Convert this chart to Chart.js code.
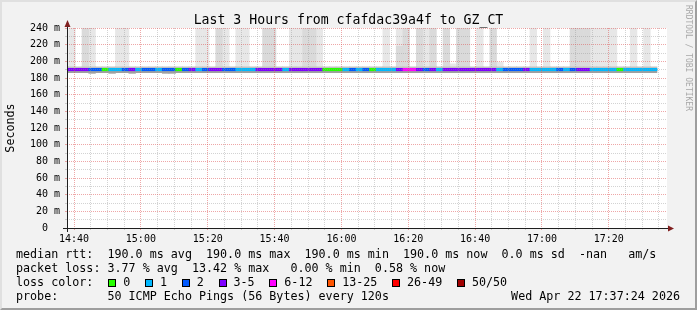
<!DOCTYPE html>
<html><head><meta charset="utf-8">
<script src="https://cdn.jsdelivr.net/npm/chart.js@4.4.1/dist/chart.umd.min.js"></script>
<style>
html,body{margin:0;padding:0;background:#f2f2f2;}
#wrap{position:relative;width:697px;height:310px;overflow:hidden;background:#f2f2f2;}
#frame{position:absolute;left:0;top:0;width:697px;height:310px;box-sizing:border-box;border-top:2px solid #e0e0e0;border-left:2px solid #e0e0e0;border-right:2px solid #9e9e9e;border-bottom:2px solid #9e9e9e;pointer-events:none;}
canvas{position:absolute;left:0;top:0;}
.t{position:absolute;font-family:"DejaVu Sans Mono",monospace;color:#000;white-space:pre;font-size:11.7px;line-height:14px;}
.bx{position:absolute;width:6px;height:6px;border:1px solid #000;}
#title{left:0;width:697px;text-align:center;top:12.8px;font-size:13.2px;line-height:13.2px;}
#wm{position:absolute;left:684px;top:5px;writing-mode:vertical-rl;font-family:"DejaVu Sans Mono",monospace;font-size:8px;line-height:9px;color:#a8a8a8;white-space:pre;}
</style></head><body>
<div id="wrap">
<canvas id="c" width="697" height="310"></canvas>
<div class="t" id="title">Last 3 Hours from cfafdac39a4f to GZ_CT</div>
<div id="wm">RRDTOOL / TOBI OETIKER</div>
<div id="legend"></div>
<div id="frame"></div>
</div>
<script>
// ---- data ----
const titleText = 'Last 3 Hours from cfafdac39a4f to GZ_CT';
const axisStart = '14:37:54';
const axisEnd = '17:37:24';
const firstStepCenter = '14:37:24';
const stepMinutes = 2;
const yTicks = [0,20,40,60,80,100,120,140,160,180,200,220,240];
const xTickLabels = ['14:40','15:00','15:20','15:40','16:00','16:20','16:40','17:00','17:20'];

// median rtt (ms) per 120 s step
const medianRtt = [190.0,
 190.0,190.0,190.0,190.0,190.0,190.0,190.0,190.0,190.0,190.0,
 190.0,190.0,190.0,190.0,190.0,190.0,190.0,190.0,190.0,190.0,
 190.0,190.0,190.0,190.0,190.0,190.0,190.0,190.0,190.0,190.0,
 190.0,190.0,190.0,190.0,190.0,190.0,190.0,190.0,190.0,190.0,
 190.0,190.0,190.0,190.0,190.0,190.0,190.0,190.0,190.0,190.0,
 190.0,190.0,190.0,190.0,190.0,190.0,190.0,190.0,190.0,190.0,
 190.0,190.0,190.0,190.0,190.0,190.0,190.0,190.0,190.0,190.0,
 190.0,190.0,190.0,190.0,190.0,190.0,190.0,190.0,190.0,190.0,
 190.0,190.0,190.0,190.0,190.0,190.0,190.0,190.0];
// loss class index per step (into lossLabels)
const lossClass = [3,
 3,3,3,2,2,0,1,1,2,3,
 1,2,2,1,2,2,0,2,3,1,
 2,3,3,2,2,1,1,1,3,3,
 3,3,1,3,3,3,3,3,0,0,
 0,1,2,1,2,0,1,1,1,3,
 4,4,3,2,3,1,3,3,3,3,
 3,3,3,3,1,2,2,2,3,1,
 1,1,1,2,1,2,3,3,1,1,
 1,1,0,1,1,1,1,1];
// smoke: lowest / highest regular ping (ms)
const pingLow = [186.4,
 186.4,186.4,186.4,185.6,186.4,186.4,185.6,186.4,186.4,185.6,
 186.4,186.4,186.4,186.4,185.6,185.6,186.4,186.4,186.4,186.4,
 186.4,186.4,186.4,186.4,186.4,186.4,186.4,186.4,186.4,186.4,
 186.4,186.4,186.4,186.4,186.4,186.4,186.4,186.4,186.4,186.4,
 186.4,186.4,186.4,186.4,186.4,186.4,186.4,186.4,186.4,186.4,
 186.4,186.4,186.4,186.4,186.4,186.4,186.4,186.4,186.4,186.4,
 186.4,186.4,186.4,186.4,186.4,186.4,186.4,186.4,186.4,186.4,
 186.4,186.4,186.4,186.4,186.4,186.4,186.4,186.4,186.4,186.4,
 186.4,186.4,186.4,186.4,186.4,186.4,186.4,186.4];
const pingHigh = [193.4,
 193.4,193.4,193.4,193.4,193.4,193.4,193.4,193.4,193.4,193.4,
 193.4,193.4,193.4,193.4,193.4,193.4,193.4,193.4,193.4,193.4,
 193.4,193.4,193.4,193.4,193.4,193.4,193.4,193.4,193.4,193.4,
 193.4,193.4,193.4,193.4,193.4,193.4,193.4,193.4,193.4,193.4,
 193.4,193.4,193.4,193.4,193.4,193.4,193.4,193.4,193.4,193.4,
 193.4,193.4,193.4,193.4,193.4,193.4,193.4,193.4,193.4,193.4,
 193.4,193.4,193.4,193.4,193.4,193.4,193.4,193.4,193.4,193.4,
 193.4,193.4,193.4,193.4,193.4,193.4,193.4,193.4,193.4,193.4,
 193.4,193.4,193.4,193.4,193.4,193.4,193.4,193.4];
// outlier smoke tops (ms), light and darker layer
const smokeOuter = [null,
 300,null,null,300,null,null,null,300,300,null,
 null,null,null,null,null,null,null,null,null,300,
 300,null,null,300,null,300,300,null,null,null,
 null,null,null,300,300,null,null,300,null,null,
 null,null,null,null,null,null,null,300,null,300,
 null,null,null,300,null,null,null,197,null,null,
 null,300,null,null,199,null,null,null,null,300,
 null,300,null,null,null,null,null,null,300,300,
 300,300,null,null,300,null,300,null];
const smokeInner = [null,
 null,null,300,null,null,null,null,null,null,null,
 null,null,null,null,null,null,null,null,null,null,
 null,null,300,null,null,null,null,null,null,300,
 300,null,null,null,null,300,300,null,null,null,
 null,null,null,null,null,null,null,null,null,218,
 300,null,300,null,300,null,300,null,300,300,
 null,null,null,300,null,null,null,null,null,null,
 null,null,null,null,null,300,300,300,null,null,
 null,null,null,null,null,null,null,null];

const lossLabels = ['0','1','2','3-5','6-12','13-25','26-49','50/50'];
const lossColors = ['#26ff00','#00b8ff','#0059ff','#7e00ff','#ff00ff','#ff5500','#ff0000','#a10000'];

const legendRows = [
  'median rtt:  190.0 ms avg  190.0 ms max  190.0 ms min  190.0 ms now  0.0 ms sd  -nan   am/s',
  'packet loss: 3.77 % avg  13.42 % max   0.00 % min  0.58 % now',
  'loss color:',
  'probe:       50 ICMP Echo Pings (56 Bytes) every 120s'
];
const timestampText = 'Wed Apr 22 17:37:24 2026';

// ---- helpers ----
const toMin = s => { const p = s.split(':').map(Number); return p[0]*60 + p[1] + (p[2]||0)/60; };
const fmt = m => { const h = Math.floor(m/60), mm = Math.round(m%60); return String(h).padStart(2,'0')+':'+String(mm).padStart(2,'0'); };
const t0 = toMin(firstStepCenter);
const xs = medianRtt.map((_, i) => t0 + i*stepMinutes);
const majorTicks = xTickLabels.map(toMin);

function floating(lo, hi) {
  return xs.map((x, i) => ({x, y: (lo[i] == null || hi[i] == null) ? null : [lo[i], hi[i]]}));
}
const medianBar = xs.map((x, i) => ({x, y: [medianRtt[i] - 1.3, medianRtt[i] + 1.6]}));

const GRID = 'rgba(150,150,150,0.42)';
const MGRID = 'rgba(222,79,79,0.5)';

const bgPlugin = {
  id: 'bg',
  beforeDraw(chart) {
    const {ctx, chartArea: a} = chart;
    ctx.save(); ctx.fillStyle = '#ffffff';
    ctx.fillRect(a.left, a.top, a.right - a.left, a.bottom - a.top);
    ctx.restore();
  },
  afterDraw(chart) {
    const {ctx, chartArea: a} = chart;
    const x0 = Math.round(a.left) + 0.5, y0 = Math.round(a.bottom) + 0.5;
    ctx.save();
    ctx.strokeStyle = '#1f1f1f'; ctx.lineWidth = 1;
    ctx.beginPath();
    ctx.moveTo(a.left - 4, y0); ctx.lineTo(a.right + 2, y0);
    ctx.moveTo(x0, a.bottom + 4); ctx.lineTo(x0, a.top - 3);
    ctx.stroke();
    ctx.fillStyle = '#801f1f';
    ctx.beginPath();
    ctx.moveTo(x0 - 3, a.top - 1); ctx.lineTo(x0 + 3, a.top - 1); ctx.lineTo(x0, a.top - 8); ctx.closePath(); ctx.fill();
    ctx.beginPath();
    ctx.moveTo(a.right + 1, y0 - 3); ctx.lineTo(a.right + 1, y0 + 3); ctx.lineTo(a.right + 7, y0); ctx.closePath(); ctx.fill();
    ctx.restore();
  }
};

const monoFont = '"DejaVu Sans Mono", monospace';
const isMajorX = c => c.tick && Math.round(c.tick.value) % 20 === 0;

new Chart(document.getElementById('c'), {
  type: 'bar',
  data: {
    datasets: [
      {label: 'median', data: medianBar, backgroundColor: lossClass.map(c => lossColors[c]), order: 1},
      {label: 'smoke low', data: xs.map((x, i) => ({x, y: [pingLow[i], medianRtt[i]]})), backgroundColor: '#a0a0a0', order: 2},
      {label: 'smoke high', data: xs.map((x, i) => ({x, y: [medianRtt[i], pingHigh[i]]})), backgroundColor: '#c2c2c2', order: 3},
      {label: 'outlier inner', data: floating(pingHigh, smokeInner), backgroundColor: '#dadada', order: 4},
      {label: 'outlier outer', data: floating(pingHigh, smokeOuter), backgroundColor: '#e7e7e7', order: 5}
    ]
  },
  options: {
    responsive: false, animation: false, devicePixelRatio: 1,
    layout: {padding: {top: 28, right: 30, left: 0, bottom: 0}},
    datasets: {bar: {barPercentage: 1.0, categoryPercentage: 1.0, grouped: false, borderWidth: 0, clip: 0}},
    plugins: {legend: {display: false}, tooltip: {enabled: false}, title: {display: false}},
    scales: {
      x: {
        type: 'linear', min: toMin(axisStart), max: toMin(axisEnd), offset: false,
        afterBuildTicks: s => { const t = []; for (let v = majorTicks[0]; v <= s.max; v += 5) t.push({value: v}); s.ticks = t; },
        afterFit: s => { s.height = 82; },
        ticks: {autoSkip: false, maxRotation: 0, padding: 3, color: '#000',
          font: {family: monoFont, size: 10},
          callback: v => (Math.round(v) % 20 === 0 ? fmt(v) : '')},
        grid: {z: 1, offset: false, drawTicks: true, tickLength: 2, lineWidth: 1,
          color: c => isMajorX(c) ? MGRID : GRID,
          tickColor: c => isMajorX(c) ? MGRID : GRID},
        border: {display: false, dash: [1, 1]}
      },
      y: {
        min: 0, max: 240,
        afterBuildTicks: s => { const t = []; for (let v = 0; v <= 240; v += 10) t.push({value: v}); s.ticks = t; },
        afterFit: s => { s.width = 67; },
        ticks: {autoSkip: false, padding: 5, color: '#000',
          font: {family: monoFont, size: 10},
          callback: v => v === 0 ? '0  ' : (yTicks.includes(v) ? v + ' m' : '')},
        grid: {z: 1, drawTicks: true, tickLength: 2, lineWidth: 1,
          color: c => (c.tick && c.tick.value % 20 === 0) ? MGRID : GRID,
          tickColor: c => (c.tick && c.tick.value % 20 === 0) ? MGRID : GRID},
        border: {display: false, dash: [1, 1]},
        title: {display: true, text: 'Seconds', color: '#000', font: {family: monoFont, size: 11.7, lineHeight: 1.2}, padding: {top: 4, bottom: 0}}
      }
    }
  },
  plugins: [bgPlugin]
});

// ---- legend (text) ----
const lg = document.getElementById('legend');
const baseTop = 247.2, rowH = 14;
legendRows.forEach((txt, r) => {
  const d = document.createElement('div');
  d.className = 't'; d.style.left = '16px'; d.style.top = (baseTop + r*rowH) + 'px';
  d.textContent = txt; lg.appendChild(d);
});
const ts = document.createElement('div');
ts.className = 't'; ts.style.right = '17px'; ts.style.top = (baseTop + 3*rowH) + 'px';
ts.textContent = timestampText; lg.appendChild(ts);
// loss color boxes
const mctx = document.createElement('canvas').getContext('2d');
mctx.font = '11.7px "DejaVu Sans Mono"';
let bx = 108.3;
lossLabels.forEach((lab, i) => {
  const b = document.createElement('div');
  b.className = 'bx'; b.style.left = bx + 'px'; b.style.top = '279.3px'; b.style.background = lossColors[i];
  lg.appendChild(b);
  const l = document.createElement('div');
  l.className = 't'; l.style.left = (bx + 15) + 'px'; l.style.top = (baseTop + 2*rowH) + 'px';
  l.textContent = lab; lg.appendChild(l);
  bx = bx + 15 + mctx.measureText(lab).width + 14.7;
});
</script>
</body></html>
